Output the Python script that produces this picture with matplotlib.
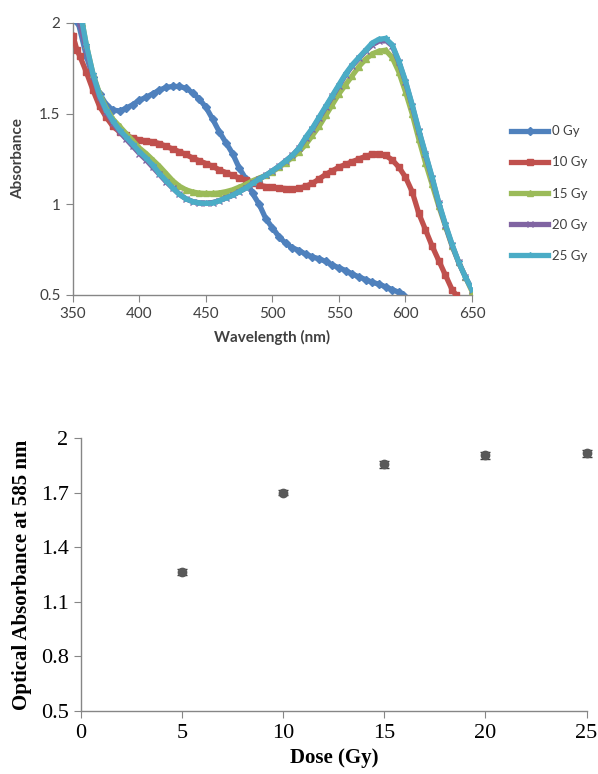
import matplotlib
matplotlib.use("Agg")
import matplotlib.pyplot as plt

# ---------------- data: top chart (absorption spectra) ----------------
wl_0 = [354, 360, 365, 370, 375, 380, 385, 390, 395, 400, 405, 410, 415, 420, 425, 430, 435, 440,
        445, 450, 455, 460, 465, 470, 475, 480, 485, 490, 495, 500, 505, 510, 515, 520, 525, 530,
        535, 540, 545, 550, 555, 560, 565, 570, 575, 580, 585, 590, 595, 598]
abs_0 = [2.00, 1.82, 1.70, 1.61, 1.55, 1.52, 1.515, 1.53, 1.55, 1.575, 1.59, 1.61, 1.63, 1.645, 1.65,
         1.65, 1.64, 1.615, 1.58, 1.535, 1.47, 1.40, 1.34, 1.28, 1.20, 1.14, 1.06, 1.00, 0.92, 0.87,
         0.82, 0.785, 0.76, 0.745, 0.725, 0.71, 0.70, 0.685, 0.665, 0.65, 0.635, 0.615, 0.60, 0.585,
         0.57, 0.56, 0.545, 0.53, 0.515, 0.50]

wl_10 = [350, 353, 355, 360, 365, 370, 375, 380, 385, 390, 395, 400, 405, 410, 415, 420, 425, 430,
         435, 440, 445, 450, 455, 460, 465, 470, 475, 480, 485, 490, 495, 500, 505, 510, 515, 520,
         525, 530, 535, 540, 545, 550, 555, 560, 565, 570, 575, 580, 585, 590, 595, 600, 605, 610,
         615, 620, 625, 630, 635, 638]
abs_10 = [1.93, 1.85, 1.82, 1.73, 1.63, 1.54, 1.48, 1.43, 1.40, 1.38, 1.365, 1.355, 1.35, 1.345,
          1.335, 1.32, 1.305, 1.29, 1.275, 1.255, 1.24, 1.225, 1.21, 1.19, 1.175, 1.16, 1.145, 1.135,
          1.12, 1.105, 1.098, 1.093, 1.09, 1.087, 1.085, 1.088, 1.10, 1.115, 1.14, 1.165, 1.185,
          1.205, 1.22, 1.235, 1.25, 1.265, 1.275, 1.278, 1.27, 1.245, 1.205, 1.15, 1.07, 0.95, 0.86,
          0.77, 0.69, 0.61, 0.53, 0.50]

wl_15 = [357, 360, 365, 370, 375, 380, 385, 390, 395, 400, 405, 410, 415, 420, 425, 430, 435, 440,
         445, 450, 455, 460, 465, 470, 475, 480, 485, 490, 495, 500, 505, 510, 515, 520, 525, 530,
         535, 540, 545, 550, 555, 560, 565, 570, 575, 580, 585, 590, 595, 600, 605, 610, 615, 620,
         625, 630, 635, 640, 645, 650]
abs_15 = [2.00, 1.88, 1.72, 1.61, 1.53, 1.47, 1.43, 1.39, 1.35, 1.31, 1.28, 1.245, 1.21, 1.17, 1.13,
          1.10, 1.08, 1.068, 1.062, 1.06, 1.06, 1.063, 1.07, 1.08, 1.095, 1.11, 1.13, 1.145, 1.16,
          1.18, 1.205, 1.23, 1.26, 1.29, 1.33, 1.38, 1.43, 1.49, 1.55, 1.61, 1.66, 1.71, 1.76, 1.80,
          1.83, 1.845, 1.85, 1.81, 1.73, 1.62, 1.50, 1.36, 1.23, 1.11, 0.99, 0.88, 0.77, 0.68, 0.60,
          0.52]

wl_20 = [355, 360, 365, 370, 375, 380, 385, 390, 395, 400, 405, 410, 415, 420, 425, 430, 435, 440,
         445, 450, 455, 460, 465, 470, 475, 480, 485, 490, 495, 500, 505, 510, 515, 520, 525, 530,
         535, 540, 545, 550, 555, 560, 565, 570, 575, 580, 585, 590, 595, 600, 605, 610, 615, 620,
         625, 630, 635, 640, 645, 650]
abs_20 = [2.00, 1.86, 1.71, 1.59, 1.51, 1.45, 1.40, 1.36, 1.32, 1.28, 1.245, 1.205, 1.165, 1.125,
          1.09, 1.055, 1.03, 1.015, 1.008, 1.006, 1.01, 1.02, 1.035, 1.05, 1.07, 1.09, 1.115, 1.14,
          1.16, 1.185, 1.21, 1.24, 1.27, 1.31, 1.365, 1.415, 1.475, 1.535, 1.595, 1.655, 1.715,
          1.765, 1.805, 1.845, 1.88, 1.90, 1.905, 1.875, 1.785, 1.675, 1.545, 1.405, 1.275, 1.145,
          1.005, 0.885, 0.775, 0.68, 0.60, 0.53]

wl_25 = [357, 360, 365, 370, 375, 380, 385, 390, 395, 400, 405, 410, 415, 420, 425, 430, 435, 440,
         445, 450, 455, 460, 465, 470, 475, 480, 485, 490, 495, 500, 505, 510, 515, 520, 525, 530,
         535, 540, 545, 550, 555, 560, 565, 570, 575, 580, 585, 590, 595, 600, 605, 610, 615, 620,
         625, 630, 635, 640, 645, 650]
abs_25 = [2.00, 1.88, 1.72, 1.60, 1.52, 1.46, 1.41, 1.37, 1.33, 1.29, 1.255, 1.215, 1.17, 1.13,
          1.09, 1.055, 1.03, 1.015, 1.008, 1.005, 1.008, 1.02, 1.035, 1.05, 1.07, 1.09, 1.115, 1.14,
          1.16, 1.185, 1.21, 1.24, 1.27, 1.31, 1.37, 1.42, 1.48, 1.54, 1.60, 1.66, 1.72, 1.77,
          1.81, 1.85, 1.89, 1.91, 1.915, 1.88, 1.79, 1.68, 1.55, 1.41, 1.28, 1.15, 1.01, 0.89,
          0.78, 0.68, 0.60, 0.53]

series_labels = ["0 Gy", "10 Gy", "15 Gy", "20 Gy", "25 Gy"]

# ---------------- data: bottom chart ----------------
dose = [5, 10, 15, 20, 25]
abs_585 = [1.265, 1.70, 1.855, 1.905, 1.915]
abs_err = [0.015, 0.015, 0.02, 0.02, 0.02]

# ---------------- styling ----------------
colors = ["#4F81BD", "#C0504D", "#9BBB59", "#8064A2", "#4BACC6"]
markers = ["D", "s", "^", "x", "*"]
spine_c = "#868686"
txt_c = "#404040"
sans = ["Lato", "DejaVu Sans"]
serif = ["Liberation Serif", "DejaVu Serif"]

fig = plt.figure(figsize=(5.98, 7.74), dpi=100)

# ---------------- top chart ----------------
ax1 = fig.add_axes([73 / 598, 1 - 295 / 774, 399 / 598, 272 / 774])
data = [(wl_0, abs_0), (wl_10, abs_10), (wl_15, abs_15), (wl_20, abs_20), (wl_25, abs_25)]
for i, ((x, y), lab) in enumerate(zip(data, series_labels)):
    ax1.plot(x, y, color=colors[i], lw=3.8, marker=markers[i], ms=4.2,
             mec=colors[i], mfc=colors[i], label=lab, zorder=2 + i, clip_on=True)
ax1.set_xlim(350, 650)
ax1.set_ylim(0.5, 2.0)
ax1.set_xticks([350, 400, 450, 500, 550, 600, 650])
ax1.set_yticks([0.5, 1.0, 1.5, 2.0])
ax1.set_yticklabels(["0.5", "1", "1.5", "2"])
for s in ["top", "right"]:
    ax1.spines[s].set_visible(False)
for s in ["left", "bottom"]:
    ax1.spines[s].set_color(spine_c)
    ax1.spines[s].set_linewidth(1.0)
ax1.tick_params(direction="out", length=5, color=spine_c, labelcolor=txt_c, labelsize=11, pad=4)
for t in ax1.get_xticklabels() + ax1.get_yticklabels():
    t.set_family(sans)
ax1.set_xlabel("Wavelength (nm)", fontsize=11, fontweight="bold", color=txt_c,
               family=sans, labelpad=6)
ax1.set_ylabel("Absorbance", fontsize=11, fontweight="bold", color=txt_c, family=sans, labelpad=10)

leg = fig.legend(*ax1.get_legend_handles_labels(), loc="upper left",
                 bbox_to_anchor=(506 / 598, 1 - 120 / 774), frameon=False,
                 prop={"family": sans, "size": 9.5}, labelspacing=1.45, handlelength=2.8,
                 handletextpad=0.3, borderaxespad=0)
for t in leg.get_texts():
    t.set_color(txt_c)
for h in leg.legend_handles:
    h.set_markevery([1])

# ---------------- bottom chart ----------------
ax2 = fig.add_axes([81 / 598, 1 - 711 / 774, 505.6 / 598, 273 / 774])
ax2.errorbar(dose, abs_585, yerr=abs_err, fmt="o", color="#595959", ms=6,
             ecolor="#404040", elinewidth=1, capsize=3.5, clip_on=False, zorder=3)
ax2.set_xlim(0, 25)
ax2.set_ylim(0.5, 2.0)
ax2.set_xticks([0, 5, 10, 15, 20, 25])
ax2.set_yticks([0.5, 0.8, 1.1, 1.4, 1.7, 2.0])
ax2.set_yticklabels(["0.5", "0.8", "1.1", "1.4", "1.7", "2"])
for s in ["top", "right"]:
    ax2.spines[s].set_visible(False)
for s in ["left", "bottom"]:
    ax2.spines[s].set_color(spine_c)
    ax2.spines[s].set_linewidth(1.0)
ax2.tick_params(direction="out", length=5, color=spine_c, labelcolor="#000000", labelsize=16, pad=4)
for t in ax2.get_xticklabels() + ax2.get_yticklabels():
    t.set_family(serif)
ax2.set_xlabel("Dose (Gy)", fontsize=15, fontweight="bold", family=serif, labelpad=4)
ax2.set_ylabel("Optical Absorbance at 585 nm", fontsize=15, fontweight="bold", family=serif,
               labelpad=6)

fig.savefig("out.png", dpi=100)
